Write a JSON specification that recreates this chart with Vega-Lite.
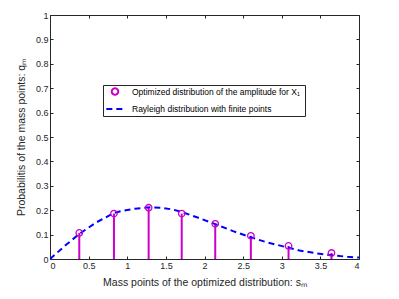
{
  "$schema": "https://vega.github.io/schema/vega-lite/v6.json",
  "autosize": "none",
  "width": 309,
  "height": 244,
  "padding": {"left": 50, "top": 15, "right": 40, "bottom": 40},
  "background": "white",
  "config": {
    "font": "Liberation Sans",
    "view": {"stroke": null},
    "axis": {
      "grid": true,
      "gridColor": "#e6e6e6",
      "gridWidth": 1,
      "domainColor": "#262626",
      "domainWidth": 1,
      "tickColor": "#262626",
      "tickSize": -3,
      "labelColor": "#262626",
      "labelFontSize": 9,
      "labelFont": "Liberation Sans",
      "titleFont": "Liberation Sans",
      "titleFontSize": 10.5,
      "titleFontWeight": "normal",
      "titleColor": "#262626"
    }
  },
  "resolve": {"axis": {"x": "independent", "y": "independent"}},
  "datasets": {
    "stems": [
      {"s": 0.379, "q": 0.107, "series": "Optimized distribution of  the amplitude for X₁"},
      {"s": 0.828, "q": 0.186, "series": "Optimized distribution of  the amplitude for X₁"},
      {"s": 1.277, "q": 0.210, "series": "Optimized distribution of  the amplitude for X₁"},
      {"s": 1.705, "q": 0.186, "series": "Optimized distribution of  the amplitude for X₁"},
      {"s": 2.139, "q": 0.144, "series": "Optimized distribution of  the amplitude for X₁"},
      {"s": 2.600, "q": 0.095, "series": "Optimized distribution of  the amplitude for X₁"},
      {"s": 3.088, "q": 0.0535, "series": "Optimized distribution of  the amplitude for X₁"},
      {"s": 3.644, "q": 0.0247, "series": "Optimized distribution of  the amplitude for X₁"}
    ],
    "curve": [
      {"s": 0.0, "q": 0.0, "series": "Rayleigh distribution with finite points"},
      {"s": 0.2, "q": 0.056, "series": "Rayleigh distribution with finite points"},
      {"s": 0.38, "q": 0.103, "series": "Rayleigh distribution with finite points"},
      {"s": 0.6, "q": 0.150, "series": "Rayleigh distribution with finite points"},
      {"s": 0.83, "q": 0.189, "series": "Rayleigh distribution with finite points"},
      {"s": 0.93, "q": 0.197, "series": "Rayleigh distribution with finite points"},
      {"s": 1.1, "q": 0.206, "series": "Rayleigh distribution with finite points"},
      {"s": 1.3, "q": 0.212, "series": "Rayleigh distribution with finite points"},
      {"s": 1.45, "q": 0.210, "series": "Rayleigh distribution with finite points"},
      {"s": 1.6, "q": 0.202, "series": "Rayleigh distribution with finite points"},
      {"s": 1.71, "q": 0.192, "series": "Rayleigh distribution with finite points"},
      {"s": 1.92, "q": 0.169, "series": "Rayleigh distribution with finite points"},
      {"s": 2.14, "q": 0.143, "series": "Rayleigh distribution with finite points"},
      {"s": 2.37, "q": 0.114, "series": "Rayleigh distribution with finite points"},
      {"s": 2.6, "q": 0.089, "series": "Rayleigh distribution with finite points"},
      {"s": 2.8, "q": 0.069, "series": "Rayleigh distribution with finite points"},
      {"s": 3.09, "q": 0.046, "series": "Rayleigh distribution with finite points"},
      {"s": 3.23, "q": 0.035, "series": "Rayleigh distribution with finite points"},
      {"s": 3.45, "q": 0.023, "series": "Rayleigh distribution with finite points"},
      {"s": 3.66, "q": 0.015, "series": "Rayleigh distribution with finite points"},
      {"s": 3.85, "q": 0.009, "series": "Rayleigh distribution with finite points"},
      {"s": 4.0, "q": 0.006, "series": "Rayleigh distribution with finite points"}
    ]
  },
  "layer": [
    {
      "data": {"name": "stems"},
      "mark": {"type": "rule", "color": "#cc00cc", "strokeWidth": 2},
      "encoding": {
        "x": {"field": "s", "type": "quantitative", "scale": {"domain": [0, 4], "nice": false},
          "axis": {"orient": "top", "labels": false, "title": null, "grid": false, "values": [0,0.5,1,1.5,2,2.5,3,3.5,4]}},
        "y": {"field": "q", "type": "quantitative", "scale": {"domain": [0, 1], "nice": false},
          "axis": {"orient": "right", "labels": false, "title": null, "grid": false, "values": [0,0.1,0.2,0.3,0.4,0.5,0.6,0.7,0.8,0.9,1]}},
        "y2": {"datum": 0}
      }
    },
    {
      "data": {"name": "curve"},
      "mark": {"type": "line", "strokeWidth": 2, "clip": true},
      "encoding": {
        "x": {"field": "s", "type": "quantitative",
          "axis": {"orient": "bottom", "title": "Mass points of the optimized distribution: sₘ", "values": [0,0.5,1,1.5,2,2.5,3,3.5,4], "format": "~g", "labelPadding": 5, "titlePadding": 7}},
        "y": {"field": "q", "type": "quantitative",
          "axis": {"orient": "left", "title": "Probabilitis of the mass points: qₘ", "values": [0,0.1,0.2,0.3,0.4,0.5,0.6,0.7,0.8,0.9,1], "format": "~g", "labelPadding": 5, "titlePadding": 9}},
        "color": {"field": "series", "type": "nominal",
          "scale": {"domain": ["Optimized distribution of  the amplitude for X₁", "Rayleigh distribution with finite points"], "range": ["#cc00cc", "#0000ff"]},
          "legend": {"title": null, "orient": "none", "legendX": 53, "legendY": 70, "labelFontSize": 8.5, "labelColor": "#000000", "labelFont": "Liberation Sans", "labelLimit": 0, "strokeColor": "#262626", "fillColor": "white", "padding": 2, "rowPadding": 0, "labelOffset": 7, "symbolStrokeWidth": 2}},
        "strokeDash": {"field": "series", "type": "nominal",
          "scale": {"domain": ["Optimized distribution of  the amplitude for X₁", "Rayleigh distribution with finite points"], "range": [[1, 0], [6, 4]]},
          "legend": {"title": null, "orient": "none", "legendX": 53, "legendY": 70}}
      }
    },
    {
      "data": {"name": "stems"},
      "mark": {"type": "point", "filled": false, "strokeWidth": 1.3, "opacity": 1},
      "encoding": {
        "x": {"field": "s", "type": "quantitative", "axis": null},
        "y": {"field": "q", "type": "quantitative", "axis": null},
        "color": {"field": "series", "type": "nominal"},
        "size": {"field": "series", "type": "nominal",
          "scale": {"domain": ["Optimized distribution of  the amplitude for X₁", "Rayleigh distribution with finite points"], "range": [42, 300]},
          "legend": {"title": null, "orient": "none", "legendX": 53, "legendY": 70}},
        "shape": {"field": "series", "type": "nominal",
          "scale": {"domain": ["Optimized distribution of  the amplitude for X₁", "Rayleigh distribution with finite points"], "range": ["circle", "stroke"]},
          "legend": {"title": null, "orient": "none", "legendX": 53, "legendY": 70}}
      }
    }
  ]
}
